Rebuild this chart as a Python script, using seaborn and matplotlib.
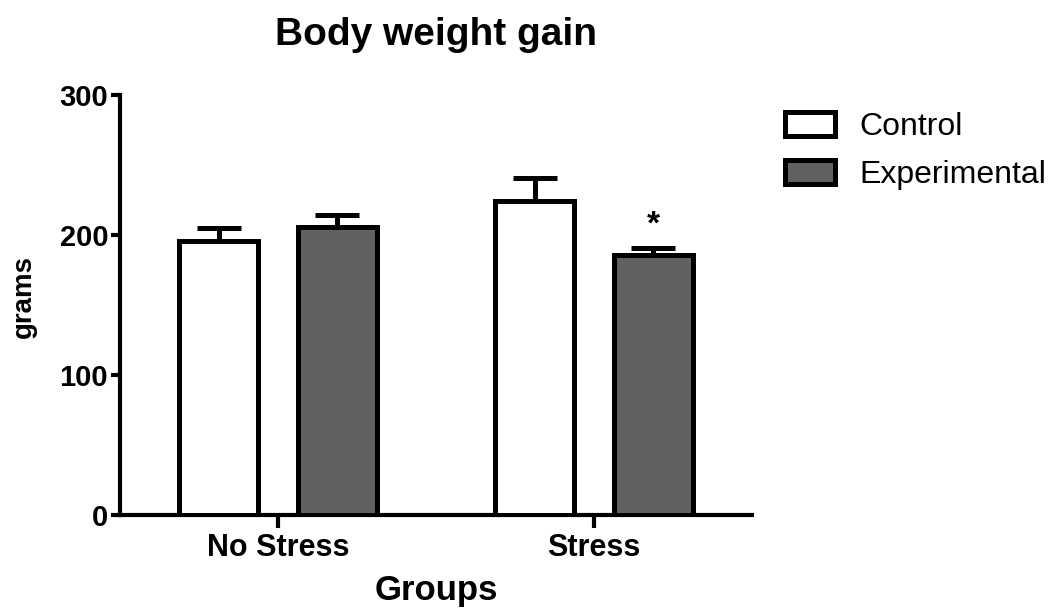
import numpy as np
import pandas as pd
import matplotlib
matplotlib.use('Agg')
import matplotlib.pyplot as plt
import seaborn as sns
from matplotlib.patches import Patch

# data
groups = ['No Stress', 'No Stress', 'Stress', 'Stress']
treatment = ['Control', 'Experimental', 'Control', 'Experimental']
weight_gain = [196, 206, 224, 186]
sem = [9, 8, 17, 5]
signif = ['', '', '', '*']
hue_levels = ['Control', 'Experimental']
colors = {'Control': 'white', 'Experimental': '#616161'}

sns.set_theme(style='ticks')
plt.rcParams['font.family'] = ['Liberation Sans', 'DejaVu Sans']
plt.rcParams.update({'text.color': 'black', 'axes.labelcolor': 'black',
                     'xtick.color': 'black', 'ytick.color': 'black',
                     'axes.edgecolor': 'black'})

df = pd.DataFrame({'Groups': groups, 'Treatment': treatment, 'grams': weight_gain,
                   'sem': sem, 'sig': signif})

fig = plt.figure(figsize=(10.57, 6.09), dpi=100)
ax = fig.add_axes([0.1135, 0.1544, 0.598, 0.6897])

sns.barplot(data=df, x='Groups', y='grams', hue='Treatment', hue_order=hue_levels,
            palette=colors, width=0.75, gap=0.333, edgecolor='black', linewidth=3.6,
            errorbar=None, legend=False, ax=ax, zorder=3)

# upper error bars + significance marks
for cont, lvl in zip(ax.containers, hue_levels):
    sub = df[df.Treatment == lvl]
    for bar, (_, row) in zip(cont, sub.iterrows()):
        xc = bar.get_x() + bar.get_width() / 2
        top = bar.get_height()
        ax.errorbar(xc, top, yerr=[[0], [row['sem']]], fmt='none', ecolor='black',
                    elinewidth=3.6, capsize=15.5, capthick=3.6, zorder=2)
        if row['sig']:
            ax.text(xc, top + row['sem'] + 5, row['sig'], ha='center', va='bottom',
                    fontsize=24, fontweight='bold')

ax.set_xlim(-0.5, 1.5)
ax.set_ylim(0, 300)
ax.set_yticks([0, 100, 200, 300])
sns.despine(ax=ax)
for s in ['left', 'bottom']:
    ax.spines[s].set_linewidth(3)

ax.tick_params(axis='y', length=6.5, width=3, labelsize=21, pad=2)
ax.tick_params(axis='x', length=9, width=3, labelsize=22, pad=4)
for lbl in ax.get_xticklabels() + ax.get_yticklabels():
    lbl.set_fontweight('bold')

ax.set_title('Body weight gain', fontsize=28, fontweight='bold', pad=36)
ax.set_xlabel('Groups', fontsize=25, fontweight='bold', labelpad=8)
ax.set_ylabel('grams', fontsize=20, fontweight='bold')
ax.yaxis.set_label_coords(-0.131, 0.52)

handles = [Patch(facecolor=colors[l], edgecolor='black', linewidth=3.6, label=l)
           for l in hue_levels]
fig.legend(handles=handles, loc='upper left', bbox_to_anchor=(0.728, 0.843),
           frameon=False, fontsize=23, handlelength=1.56, handleheight=0.78,
           handletextpad=0.75, labelspacing=0.58, borderpad=0)

fig.savefig('out.png', dpi=100)
